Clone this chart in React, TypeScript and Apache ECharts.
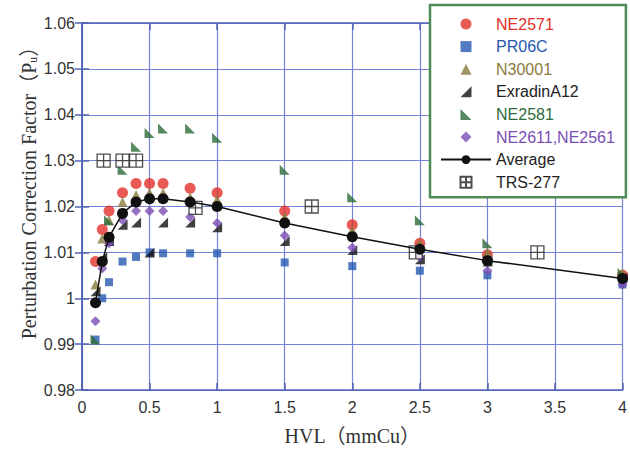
import React, { useEffect, useRef } from "react";
import * as echarts from "echarts";

// HVL (mmCu) sampling points
const HVL = [0.1, 0.15, 0.2, 0.3, 0.4, 0.5, 0.6, 0.8, 1.0, 1.5, 2.0, 2.5, 3.0, 4.0];
const HVL_NE2581 = [0.1, 0.2, 0.3, 0.4, 0.5, 0.6, 0.8, 1.0, 1.5, 2.0, 2.5, 3.0, 4.0];
const HVL_TRS = [0.16, 0.3, 0.4, 0.84, 1.7, 2.47, 3.37];

const NE2571 = [1.008, 1.015, 1.019, 1.023, 1.025, 1.025, 1.025, 1.024, 1.023, 1.019, 1.016, 1.012, 1.0095, 1.005];
const PR06C = [0.991, 1.0, 1.0035, 1.008, 1.009, 1.01, 1.0098, 1.0098, 1.0098, 1.0078, 1.007, 1.006, 1.005, 1.003];
const N30001 = [1.003, 1.013, 1.017, 1.021, 1.0225, 1.023, 1.023, 1.022, 1.0215, 1.0177, 1.0148, 1.012, 1.01, 1.0055];
const EXRADIN_A12 = [1.0015, 1.009, 1.0125, 1.016, 1.0165, 1.01, 1.0165, 1.0165, 1.0155, 1.0125, 1.0105, 1.0085, 1.008, 1.0045];
const NE2581 = [0.991, 1.017, 1.028, 1.033, 1.036, 1.037, 1.037, 1.035, 1.028, 1.022, 1.017, 1.012, 1.0055];
const NE2611_NE2561 = [0.995, 1.0065, 1.012, 1.017, 1.019, 1.019, 1.019, 1.0177, 1.0164, 1.0137, 1.011, 1.009, 1.006, 1.003];
const AVERAGE = [0.999, 1.008, 1.0133, 1.0185, 1.021, 1.0217, 1.0217, 1.021, 1.02, 1.0164, 1.0134, 1.0107, 1.0082, 1.0043];
const TRS_277 = [1.03, 1.03, 1.03, 1.0197, 1.02, 1.01, 1.01];

const X_TICKS = { min: 0, max: 4, interval: 0.5 };
const Y_TICKS = { min: 0.98, max: 1.06, interval: 0.01 };

const zip = (xs: number[], ys: number[]) => xs.map((x, i) => [x, ys[i]]);

const SQUARE = "path://M0,0H10V10H0Z";
const DIAMOND = "path://M5,0L10,5L5,10L0,5Z";
const TRIANGLE = "path://M5,0L10,10L0,10Z";
const TRI_RIGHT = "path://M10,0L10,10L0,10Z";
const TRI_LEFT = "path://M0,0L10,10L0,10Z";
const BOXCROSS = "path://M0,0H10V10H0Z M5,0V10 M0,5H10";

const COLORS = {
  red: "#e3302a",
  blue: "#2559b0",
  olive: "#8b7a3e",
  black: "#111111",
  green: "#2d6b3a",
  purple: "#7b4db3",
};

const GRID_COLOR = "#7483d8";
const AXIS_COLOR = "#5263b6";
const SANS = "Liberation Sans, Arial, sans-serif";
const SERIF = "Liberation Serif, 'Noto Sans CJK JP', serif";

export default function App() {
  const ref = useRef<HTMLDivElement>(null);

  useEffect(() => {
    if (!ref.current) return;
    const chart = echarts.init(ref.current, undefined, { renderer: "svg" });

    const frameAxis = {
      show: true,
      axisLine: { show: true, lineStyle: { color: AXIS_COLOR, width: 1.5 } },
      axisTick: { show: true, inside: true, length: 7, lineStyle: { color: AXIS_COLOR, width: 1.5 } },
      axisLabel: { show: false },
      splitLine: { show: false },
    };

    chart.setOption({
      animation: false,
      backgroundColor: "#ffffff",
      grid: { left: 82, right: 5, top: 23, bottom: 64, containLabel: false },
      xAxis: [
        {
          type: "value",
          ...X_TICKS,
          name: "HVL（mmCu）",
          nameLocation: "middle",
          nameGap: 36,
          nameTextStyle: { fontFamily: SERIF, fontSize: 20, color: "#333" },
          axisLine: { show: true, lineStyle: { color: AXIS_COLOR, width: 1.5 } },
          axisTick: { show: true, inside: true, length: 7, lineStyle: { color: AXIS_COLOR, width: 1.5 } },
          axisLabel: { fontFamily: SANS, fontSize: 16, color: "#333", margin: 9 },
          splitLine: { show: true, lineStyle: { color: GRID_COLOR, width: 1.2 } },
        },
        { type: "value", position: "top", ...X_TICKS, ...frameAxis },
      ],
      yAxis: [
        {
          type: "value",
          ...Y_TICKS,
          axisLine: { show: true, lineStyle: { color: AXIS_COLOR, width: 1.5 } },
          axisTick: { show: true, inside: true, length: 7, lineStyle: { color: AXIS_COLOR, width: 1.5 } },
          axisLabel: {
            fontFamily: SANS,
            fontSize: 16,
            color: "#333",
            margin: 7,
            formatter: (v: number) => String(Number(v.toFixed(2))),
          },
          splitLine: { show: true, lineStyle: { color: GRID_COLOR, width: 1.2 } },
        },
        { type: "value", position: "right", ...Y_TICKS, ...frameAxis },
      ],
      graphic: [
        {
          type: "text",
          x: 29,
          y: 188,
          rotation: Math.PI / 2,
          style: {
            text: "{a|Perturbation Correction Factor（P}{s|u}{a|）}",
            align: "center",
            verticalAlign: "middle",
            fill: "#333",
            rich: {
              a: { fontFamily: SERIF, fontSize: 20, fill: "#333", color: "#333" },
              s: { fontFamily: SERIF, fontSize: 12, fill: "#333", color: "#333", verticalAlign: "bottom", padding: [6, 0, 0, 0] },
            },
          },
        },
      ],
      legend: {
        orient: "vertical",
        left: 430,
        top: 5,
        backgroundColor: "#ffffff",
        borderColor: "#4e8c56",
        borderWidth: 2.5,
        padding: [11, 11, 7, 10],
        itemWidth: 50,
        itemHeight: 11,
        itemGap: 6.6,
        textStyle: { fontFamily: SANS, fontSize: 16, color: "#222" },
        data: [
          { name: "NE2571", textStyle: { color: COLORS.red } },
          { name: "PR06C", textStyle: { color: COLORS.blue } },
          { name: "N30001", textStyle: { color: COLORS.olive } },
          { name: "ExradinA12", textStyle: { color: "#222" } },
          { name: "NE2581", textStyle: { color: COLORS.green } },
          { name: "NE2611,NE2561", textStyle: { color: COLORS.purple } },
          { name: "Average", textStyle: { color: "#222" } },
          { name: "TRS-277", textStyle: { color: "#222" } },
        ],
      },
      series: [
        {
          name: "NE2571",
          type: "scatter",
          symbol: "circle",
          symbolSize: 11,
          itemStyle: { color: COLORS.red },
          data: zip(HVL, NE2571),
        },
        {
          name: "PR06C",
          type: "scatter",
          symbol: SQUARE,
          symbolSize: 8,
          itemStyle: { color: COLORS.blue },
          data: zip(HVL, PR06C),
        },
        {
          name: "N30001",
          type: "scatter",
          symbol: TRIANGLE,
          symbolSize: 10,
          itemStyle: { color: COLORS.olive },
          data: zip(HVL, N30001),
        },
        {
          name: "ExradinA12",
          type: "scatter",
          symbol: TRI_RIGHT,
          symbolSize: 10,
          itemStyle: { color: COLORS.black },
          data: zip(HVL, EXRADIN_A12),
        },
        {
          name: "NE2581",
          type: "scatter",
          symbol: TRI_LEFT,
          symbolSize: 10,
          itemStyle: { color: COLORS.green },
          data: zip(HVL_NE2581, NE2581),
        },
        {
          name: "NE2611,NE2561",
          type: "scatter",
          symbol: DIAMOND,
          symbolSize: 10,
          itemStyle: { color: COLORS.purple },
          data: zip(HVL, NE2611_NE2561),
        },
        {
          name: "Average",
          type: "line",
          symbol: "circle",
          symbolSize: 11,
          lineStyle: { color: COLORS.black, width: 1.5 },
          itemStyle: { color: COLORS.black },
          data: zip(HVL, AVERAGE),
        },
        {
          name: "TRS-277",
          type: "scatter",
          symbol: BOXCROSS,
          symbolSize: 13,
          itemStyle: { color: "#ffffff", borderColor: "#222", borderWidth: 1.3 },
          data: zip(HVL_TRS, TRS_277),
        },
      ],
    });

    return () => chart.dispose();
  }, []);

  return (
    <div
      ref={ref}
      style={{ position: "fixed", left: 0, top: 0, width: 630, height: 454, background: "#fff" }}
    />
  );
}
